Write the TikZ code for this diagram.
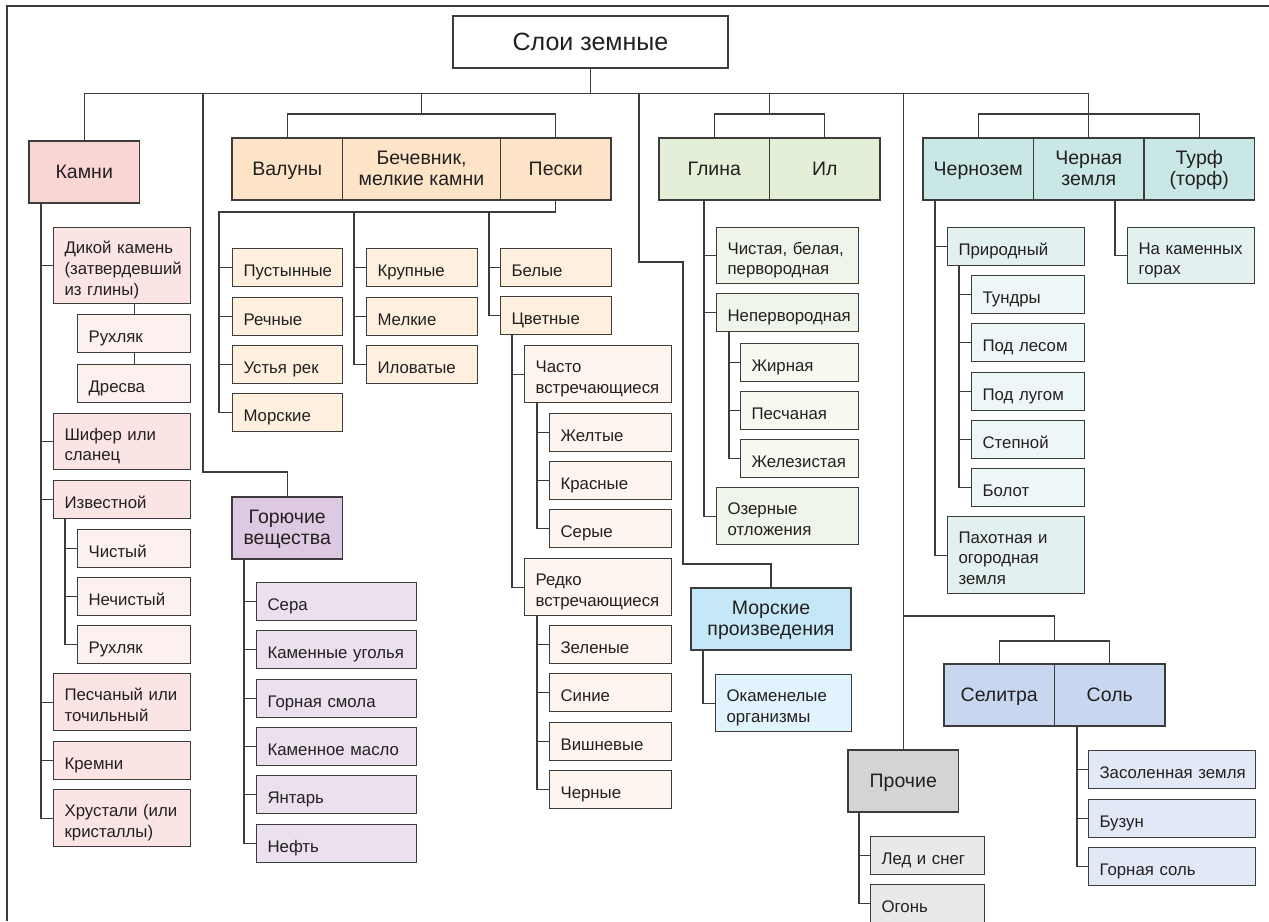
\documentclass[tikz,border=0pt]{standalone}
\usepackage{fontspec}
\setmainfont{Liberation Sans}
\usepackage{tikz}
\usetikzlibrary{calc}

\definecolor{linec}{HTML}{3C3C3C}
\definecolor{textc}{HTML}{231F20}
\definecolor{kamA}{HTML}{F9D5D3}
\definecolor{kamB}{HTML}{FBE5E4}
\definecolor{kamC}{HTML}{FDF1F0}
\definecolor{sandA}{HTML}{FDE4C7}
\definecolor{sandB}{HTML}{FEEFDF}
\definecolor{sandC}{HTML}{FEF6EE}
\definecolor{clayA}{HTML}{E4EFD8}
\definecolor{clayB}{HTML}{EFF5E8}
\definecolor{clayC}{HTML}{F5F9F0}
\definecolor{soilA}{HTML}{C9E7E4}
\definecolor{soilB}{HTML}{E2F1EF}
\definecolor{soilC}{HTML}{EEF7F7}
\definecolor{gorA}{HTML}{DDCAE2}
\definecolor{gorB}{HTML}{EBE1EE}
\definecolor{morA}{HTML}{C5E8F8}
\definecolor{morB}{HTML}{E1F3FC}
\definecolor{saltA}{HTML}{C8D6EF}
\definecolor{saltB}{HTML}{E2E9F6}
\definecolor{prA}{HTML}{D4D4D4}
\definecolor{prB}{HTML}{E9E9EA}

\newcommand{\fbig}{\fontsize{19.5}{21}\selectfont}
\newcommand{\fsmall}{\fontsize{16.8}{20.7}\selectfont}
\newcommand{\froot}{\fontsize{25}{30}\selectfont}
\newcommand{\bl}[1]{\raisebox{-4.8pt}[\height][\depth]{\begin{tabular}{@{}l@{}}#1\end{tabular}}}
\newcommand{\bc}[1]{\raisebox{-1.8pt}[\height][\depth]{\begin{tabular}{@{}c@{}}#1\end{tabular}}}

\begin{document}
\begin{tikzpicture}[x=1pt,y=-1pt,line width=1.1pt,color=linec,text=textc,
  big/.style={draw,inner sep=0pt,outer sep=0pt,anchor=north west,minimum width=#1,minimum height=62pt,font=\fbig},
  big/.default=110.5pt,
  leaf/.style={draw,anchor=north west,inner xsep=11pt,inner ysep=0pt,text width=#1,minimum height=37.5pt,font=\fsmall,align=left}]
\useasboundingbox (0,0) rectangle (1269,921);
% frame
\draw (7,921) |- (1269,6);
%ROOT
\node[draw,inner sep=0pt,minimum width=275pt,minimum height=52pt,font=\froot,fill=white] (root) at (590.5,42) {Слои земные};
%GROUPS
\node[big,fill=kamA] (kamni) at (29,141) {\bc{Камни}};
\node[big,fill=sandA] (valun) at (232,138) {\bc{Валуны}};
\node[big=158pt,fill=sandA] (bech) at (valun.north east) {\bc{Бечевник,\\мелкие камни}};
\node[big,fill=sandA] (peski) at (bech.north east) {\bc{Пески}};
\node[big,fill=clayA] (glina) at (659,138) {\bc{Глина}};
\node[big,fill=clayA] (il) at (glina.north east) {\bc{Ил}};
\node[big,fill=soilA] (chzem) at (923,138) {\bc{Чернозем}};
\node[big,fill=soilA] (cherz) at (chzem.north east) {\bc{Черная\\земля}};
\node[big,fill=soilA] (turf) at (cherz.north east) {\bc{Турф\\(торф)}};
\node[big,fill=gorA] (gor) at (232,497) {\bc{Горючие\\вещества}};
\node[big=160pt,fill=morA] (morpr) at (691,588) {\bc{Морские\\произведения}};
\node[big,fill=prA] (proch) at (848,750) {\bc{Прочие}};
\node[big,fill=saltA] (selitra) at (944,664) {\bc{Селитра}};
\node[big,fill=saltA] (sol) at (selitra.north east) {\bc{Соль}};
% top level connectors
\coordinate (rb) at ($(root.south)+(0,25)$);
\coordinate (gb) at ($(valun.north)+(0,-24)$);
\draw (root.south) -- (rb);
\draw (kamni.north) -- (kamni.north |- rb) -- (cherz.north |- rb) -- (cherz.north);
\draw (bech.north |- rb) -- (bech.north |- gb);
\draw (valun.north) |- (peski.north |- gb) -- (peski.north);
\draw (glina.north east |- rb) -- (glina.north east |- gb);
\draw (glina.north) |- (il.north |- gb) -- (il.north);
\draw (chzem.north) |- (turf.north |- gb) -- (turf.north);
\coordinate (gorb) at (203,472);
\draw (gorb |- rb) -- (gorb) -| (gor.north);
\coordinate (mb1) at (639,262);
\coordinate (mb2) at (683,564);
\draw (mb1 |- rb) -- (mb1) -| (mb2) -| (morpr.north);
\coordinate (sbr) at (904,616);
\coordinate (slb) at ($(selitra.north)+(0,-23)$);
\draw (proch.north |- rb) -- (proch.north);
\draw (proch.north |- sbr) -| (selitra.north east |- slb);
\draw (selitra.north) |- (sol.north |- slb) -- (sol.north);
%KAMNI
\node[leaf=115pt,fill=kamB,minimum height=76pt] (dik) at (53,227) {\bl{Дикой камень\\(затвердевший\\из глины)}};
\node[leaf=91pt,fill=kamC] (ruh1) at (77,314) {\bl{Рухляк}};
\node[leaf=91pt,fill=kamC] (dres) at (77,364) {\bl{Дресва}};
\node[leaf=115pt,fill=kamB,minimum height=56pt] (shif) at (53,413) {\bl{Шифер или\\сланец}};
\node[leaf=115pt,fill=kamB] (izv) at (53,480) {\bl{Известной}};
\node[leaf=91pt,fill=kamC] (chist) at (77,529) {\bl{Чистый}};
\node[leaf=91pt,fill=kamC] (nechist) at (77,577) {\bl{Нечистый}};
\node[leaf=91pt,fill=kamC] (ruh2) at (77,625) {\bl{Рухляк}};
\node[leaf=115pt,fill=kamB,minimum height=57pt] (pesch) at (53,673) {\bl{Песчаный или\\точильный}};
\node[leaf=115pt,fill=kamB] (krem) at (53,741) {\bl{Кремни}};
\node[leaf=115pt,fill=kamB,minimum height=57pt] (hrust) at (53,789) {\bl{Хрустали (или\\кристаллы)}};
\coordinate (kt) at ($(dik.west)+(-12,0)$);
\draw (kamni.south -| kt) |- (hrust.west);
\foreach \c in {dik,shif,izv,pesch,krem} \draw (kt |- \c.west) -- (\c.west);
\draw (dik.south -| ruh1.north) -- (ruh1.north);
\draw (ruh1.south) -- (dres.north);
\coordinate (it) at ($(chist.west)+(-12,0)$);
\draw (izv.south -| it) |- (ruh2.west);
\foreach \c in {chist,nechist} \draw (it |- \c.west) -- (\c.west);
%SAND
\node[leaf=88pt,fill=sandB] (pust) at (232,248) {\bl{Пустынные}};
\node[leaf=88pt,fill=sandB] (rech) at (232,297) {\bl{Речные}};
\node[leaf=88pt,fill=sandB] (ustr) at (232,345) {\bl{Устья рек}};
\node[leaf=88pt,fill=sandB] (morsk) at (232,393) {\bl{Морские}};
\node[leaf=89pt,fill=sandB] (krup) at (366,248) {\bl{Крупные}};
\node[leaf=89pt,fill=sandB] (melk) at (366,297) {\bl{Мелкие}};
\node[leaf=89pt,fill=sandB] (ilov) at (366,345) {\bl{Иловатые}};
\node[leaf=89pt,fill=sandB] (bel) at (500,248) {\bl{Белые}};
\node[leaf=89pt,fill=sandB] (cvet) at (500,296) {\bl{Цветные}};
\node[leaf=125pt,fill=sandC,minimum height=57pt] (chasto) at (524,345) {\bl{Часто\\встречающиеся}};
\node[leaf=100pt,fill=sandC] (zhelt) at (549,413) {\bl{Желтые}};
\node[leaf=100pt,fill=sandC] (krasn) at (549,461) {\bl{Красные}};
\node[leaf=100pt,fill=sandC] (ser) at (549,509) {\bl{Серые}};
\node[leaf=125pt,fill=sandC,minimum height=57pt] (redko) at (524,558) {\bl{Редко\\встречающиеся}};
\node[leaf=100pt,fill=sandC] (zelen) at (549,625) {\bl{Зеленые}};
\node[leaf=100pt,fill=sandC] (sin) at (549,673) {\bl{Синие}};
\node[leaf=100pt,fill=sandC] (vishn) at (549,722) {\bl{Вишневые}};
\node[leaf=100pt,fill=sandC] (chern) at (549,770) {\bl{Черные}};
\coordinate (sb) at ($(peski.south)+(0,12)$);
\coordinate (st1) at ($(pust.west)+(-13,0)$);
\coordinate (st2) at ($(krup.west)+(-12,0)$);
\coordinate (st3) at ($(bel.west)+(-11,0)$);
\draw (peski.south) -- (sb) -- (sb -| st1) |- (morsk.west);
\draw (sb -| st2) |- (ilov.west);
\draw (sb -| st3) |- (cvet.west);
\foreach \c in {pust,rech,ustr} \draw (st1 |- \c.west) -- (\c.west);
\foreach \c in {krup,melk} \draw (st2 |- \c.west) -- (\c.west);
\draw (st3 |- bel.west) -- (bel.west);
\coordinate (ct) at ($(chasto.west)+(-12,0)$);
\draw (cvet.south -| ct) |- (redko.west);
\draw (ct |- chasto.west) -- (chasto.west);
\coordinate (cht) at ($(zhelt.west)+(-12,0)$);
\draw (chasto.south -| cht) |- (ser.west);
\foreach \c in {zhelt,krasn} \draw (cht |- \c.west) -- (\c.west);
\draw (redko.south -| cht) |- (chern.west);
\foreach \c in {zelen,sin,vishn} \draw (cht |- \c.west) -- (\c.west);
%CLAY
\node[leaf=120pt,fill=clayB,minimum height=56pt] (chistaya) at (716,227) {\bl{Чистая, белая,\\первородная}};
\node[leaf=120pt,fill=clayB] (neperv) at (716,293) {\bl{Непервородная}};
\node[leaf=96pt,fill=clayC] (zhirn) at (740,343) {\bl{Жирная}};
\node[leaf=96pt,fill=clayC] (peschan) at (740,391) {\bl{Песчаная}};
\node[leaf=96pt,fill=clayC] (zhelez) at (740,439) {\bl{Железистая}};
\node[leaf=120pt,fill=clayB,minimum height=57pt] (ozern) at (716,487) {\bl{Озерные\\отложения}};
\coordinate (gt) at ($(chistaya.west)+(-12,0)$);
\draw (glina.south -| gt) |- (ozern.west);
\foreach \c in {chistaya,neperv} \draw (gt |- \c.west) -- (\c.west);
\coordinate (nt) at ($(zhirn.west)+(-11,0)$);
\draw (neperv.south -| nt) |- (zhelez.west);
\foreach \c in {zhirn,peschan} \draw (nt |- \c.west) -- (\c.west);
%MORSKIE
\node[leaf=114pt,fill=morB,minimum height=57pt] (okam) at (715,674) {\bl{Окаменелые\\организмы}};
\coordinate (mt) at ($(okam.west)+(-12,0)$);
\draw (morpr.south -| mt) |- (okam.west);
%GORUCHIE
\node[leaf=138pt,fill=gorB] (sera) at (256,582) {\bl{Сера}};
\node[leaf=138pt,fill=gorB] (kug) at (256,630) {\bl{Каменные уголья}};
\node[leaf=138pt,fill=gorB] (gsm) at (256,679) {\bl{Горная смола}};
\node[leaf=138pt,fill=gorB] (kmas) at (256,727) {\bl{Каменное масло}};
\node[leaf=138pt,fill=gorB] (yant) at (256,775) {\bl{Янтарь}};
\node[leaf=138pt,fill=gorB] (neft) at (256,824) {\bl{Нефть}};
\coordinate (gort) at ($(sera.west)+(-12,0)$);
\draw (gor.south -| gort) |- (neft.west);
\foreach \c in {sera,kug,gsm,kmas,yant} \draw (gort |- \c.west) -- (\c.west);
%CHERNOZEM
\node[leaf=115pt,fill=soilB] (prir) at (947,227) {\bl{Природный}};
\node[leaf=91pt,fill=soilC] (tundr) at (971,275) {\bl{Тундры}};
\node[leaf=91pt,fill=soilC] (podles) at (971,323) {\bl{Под лесом}};
\node[leaf=91pt,fill=soilC] (podlug) at (971,372) {\bl{Под лугом}};
\node[leaf=91pt,fill=soilC] (stepn) at (971,420) {\bl{Степной}};
\node[leaf=91pt,fill=soilC] (bolot) at (971,468) {\bl{Болот}};
\node[leaf=115pt,fill=soilB,minimum height=77pt] (pahot) at (947,516) {\bl{Пахотная и\\огородная\\земля}};
\node[leaf=105pt,fill=soilB,minimum height=56pt] (nakam) at (1127,227) {\bl{На каменных\\горах}};
\coordinate (zt) at ($(prir.west)+(-12,0)$);
\draw (chzem.south -| zt) |- (pahot.west);
\draw (zt |- prir.west) -- (prir.west);
\coordinate (pt) at ($(tundr.west)+(-12,0)$);
\draw (prir.south -| pt) |- (bolot.west);
\foreach \c in {tundr,podles,podlug,stepn} \draw (pt |- \c.west) -- (\c.west);
\coordinate (nkt) at ($(nakam.west)+(-12,0)$);
\draw (cherz.south -| nkt) |- (nakam.west);
%SALT AND OTHERS
\node[leaf=145pt,fill=saltB] (zasol) at (1088,750) {\bl{Засоленная земля}};
\node[leaf=145pt,fill=saltB] (buzun) at (1088,799) {\bl{Бузун}};
\node[leaf=145pt,fill=saltB] (gsol) at (1088,847) {\bl{Горная соль}};
\node[leaf=92pt,fill=prB] (led) at (870,836) {\bl{Лед и снег}};
\node[leaf=92pt,fill=prB] (ogon) at (870,884) {\bl{Огонь}};
\coordinate (solt) at ($(zasol.west)+(-11,0)$);
\draw (sol.south -| solt) |- (gsol.west);
\foreach \c in {zasol,buzun} \draw (solt |- \c.west) -- (\c.west);
\coordinate (prt) at ($(led.west)+(-11,0)$);
\draw (proch.south -| prt) |- (ogon.west);
\draw (prt |- led.west) -- (led.west);
\end{tikzpicture}
\end{document}
